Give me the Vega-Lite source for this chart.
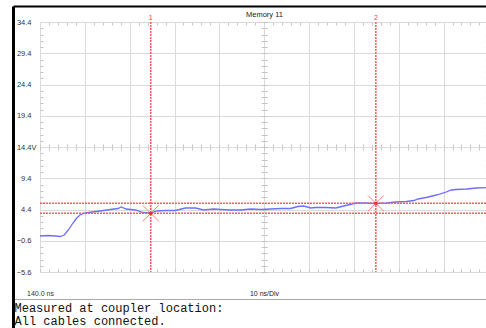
{
  "$schema": "https://vega.github.io/schema/vega-lite/v6.json",
  "width": 473,
  "height": 322,
  "autosize": {"type": "none"},
  "padding": {"left": 13, "top": 6, "right": 0, "bottom": 0},
  "background": "white",
  "config": {
    "view": {"stroke": null},
    "axis": {
      "grid": false, "domain": false, "labels": false, "ticks": false,
      "tickColor": "#c4c4c4", "tickWidth": 1,
      "labelFont": "Liberation Sans", "labelFontSize": 7.5, "labelColor": "#333333",
      "titleFont": "Liberation Sans", "titleFontSize": 7.5, "titleFontWeight": "normal", "titleColor": "#222222"
    }
  },
  "datasets": {
    "trace": [
      {"t": 140.0, "v": 0.16}, {"t": 141.8, "v": 0.24}, {"t": 143.4, "v": 0.16}, {"t": 144.5, "v": 0.08},
      {"t": 145.4, "v": 0.32}, {"t": 146.3, "v": 1.12}, {"t": 147.2, "v": 2.08}, {"t": 148.1, "v": 2.96},
      {"t": 148.9, "v": 3.52}, {"t": 150.1, "v": 3.84}, {"t": 151.6, "v": 4.0}, {"t": 153.4, "v": 4.16},
      {"t": 155.7, "v": 4.4}, {"t": 157.4, "v": 4.56}, {"t": 158.1, "v": 4.8}, {"t": 159.2, "v": 4.48},
      {"t": 161.3, "v": 4.32}, {"t": 163.0, "v": 3.92}, {"t": 164.6, "v": 3.84}, {"t": 166.0, "v": 4.16},
      {"t": 168.0, "v": 4.24}, {"t": 170.2, "v": 4.24}, {"t": 172.4, "v": 4.64}, {"t": 174.7, "v": 4.64},
      {"t": 176.5, "v": 4.32}, {"t": 178.7, "v": 4.48}, {"t": 180.3, "v": 4.4}, {"t": 182.5, "v": 4.32},
      {"t": 184.7, "v": 4.32}, {"t": 187.0, "v": 4.48}, {"t": 189.2, "v": 4.4}, {"t": 191.5, "v": 4.48},
      {"t": 193.7, "v": 4.56}, {"t": 195.9, "v": 4.56}, {"t": 197.5, "v": 4.88}, {"t": 198.8, "v": 4.96},
      {"t": 200.4, "v": 4.64}, {"t": 201.5, "v": 4.72}, {"t": 203.8, "v": 4.72}, {"t": 206.0, "v": 4.64},
      {"t": 208.2, "v": 5.04}, {"t": 210.5, "v": 5.44}, {"t": 212.7, "v": 5.44}, {"t": 214.9, "v": 5.36},
      {"t": 217.2, "v": 5.44}, {"t": 219.4, "v": 5.6}, {"t": 221.7, "v": 5.68}, {"t": 223.4, "v": 5.84},
      {"t": 224.3, "v": 6.08}, {"t": 226.1, "v": 6.32}, {"t": 228.4, "v": 6.72}, {"t": 230.6, "v": 7.2},
      {"t": 231.7, "v": 7.52}, {"t": 232.8, "v": 7.6}, {"t": 235.1, "v": 7.68}, {"t": 237.3, "v": 7.84},
      {"t": 239.8, "v": 7.92}
    ],
    "cursors": [
      {"cursor": "1", "t": 164.7, "v": 3.79},
      {"cursor": "2", "t": 214.9, "v": 5.39}
    ]
  },
  "resolve": {"axis": {"x": "independent", "y": "independent"}},
  "layer": [
    {
      "data": {"name": "trace"},
      "mark": {"type": "line", "stroke": "#6e6eff", "strokeWidth": 1.3, "interpolate": "linear"},
      "encoding": {
        "x": {"field": "t", "type": "quantitative",
          "scale": {"domain": [133.9786, 239.4648], "nice": false, "zero": false},
          "axis": {"orient": "top", "offset": 0, "domain": true, "domainColor": "#000000", "domainWidth": 2,
            "title": "Memory 11", "titleX": 251, "titleY": 10.5, "titleBaseline": "alphabetic", "titleAlign": "center"}},
        "y": {"field": "v", "type": "quantitative",
          "scale": {"domain": [-14.56, 36.96], "nice": false, "zero": false},
          "axis": {"orient": "left", "offset": 0, "domain": true, "domainColor": "#000000", "domainWidth": 3, "title": null}}
      }
    },
    {
      "data": {"name": "cursors"},
      "mark": {"type": "rule", "stroke": "#ff5a5a", "strokeWidth": 1.5, "strokeDash": [2, 1], "opacity": 1},
      "encoding": {
        "x": {"field": "t", "type": "quantitative",
          "scale": {"domain": [133.9786, 239.4648], "nice": false, "zero": false},
          "axis": {"orient": "bottom", "offset": -306, "ticks": true, "title": null,
            "values": [140,142,144,146,148,150,152,154,156,158,160,162,164,166,168,170,172,174,176,178,180,182,184,186,188,190,192,194,196,198,200,202,204,206,208,210,212,214,216,218,220,222,224,226,228,230,232,234,236,238,240],
            "tickSize": {"condition": {"test": "datum.value % 10 === 0", "value": 250}, "value": 3},
            "tickColor": {"condition": {"test": "datum.value % 10 === 0", "value": "#dadada"}, "value": "#c4c4c4"}}},
        "y": {"datum": 34.4, "type": "quantitative",
          "scale": {"domain": [-14.56, 36.96], "nice": false, "zero": false},
          "axis": {"orient": "right", "offset": -446, "ticks": true, "title": null,
            "values": [-5.6,-4.6,-3.6,-2.6,-1.6,-0.6,0.4,1.4,2.4,3.4,4.4,5.4,6.4,7.4,8.4,9.4,10.4,11.4,12.4,13.4,14.4,15.4,16.4,17.4,18.4,19.4,20.4,21.4,22.4,23.4,24.4,25.4,26.4,27.4,28.4,29.4,30.4,31.4,32.4,33.4,34.4],
            "tickSize": {"condition": {"test": "indexof([-5.6,-0.6,4.4,9.4,14.4,19.4,24.4,29.4,34.4], datum.value) >= 0", "value": 448.4}, "value": 3},
            "tickColor": {"condition": {"test": "indexof([-5.6,-0.6,4.4,9.4,14.4,19.4,24.4,29.4,34.4], datum.value) >= 0", "value": "#dadada"}, "value": "#c4c4c4"}}},
        "y2": {"datum": -5.6}
      }
    },
    {
      "data": {"name": "cursors"},
      "mark": {"type": "rule", "stroke": "#ff5a5a", "strokeWidth": 1.5, "strokeDash": [2, 1], "opacity": 1},
      "encoding": {
        "x": {"datum": 140, "type": "quantitative",
          "scale": {"domain": [133.9786, 239.4648], "nice": false, "zero": false},
          "axis": {"orient": "top", "offset": -266, "ticks": true, "tickSize": 3, "title": null,
            "values": [140,142,144,146,148,150,152,154,156,158,160,162,164,166,168,170,172,174,176,178,180,182,184,186,188,190,192,194,196,198,200,202,204,206,208,210,212,214,216,218,220,222,224,226,228,230,232,234,236,238,240]}},
        "x2": {"datum": 240},
        "y": {"field": "v", "type": "quantitative",
          "scale": {"domain": [-14.56, 36.96], "nice": false, "zero": false},
          "axis": {"orient": "left", "offset": -475.4, "ticks": true, "tickSize": 3, "title": null,
            "values": [-5.6,-4.6,-3.6,-2.6,-1.6,-0.6,0.4,1.4,2.4,3.4,4.4,5.4,6.4,7.4,8.4,9.4,10.4,11.4,12.4,13.4,14.4,15.4,16.4,17.4,18.4,19.4,20.4,21.4,22.4,23.4,24.4,25.4,26.4,27.4,28.4,29.4,30.4,31.4,32.4,33.4,34.4]}}
      }
    },
    {
      "data": {"name": "cursors"},
      "mark": {"type": "point", "shape": "M-1,-1L1,1M-1,1L1,-1", "size": 256, "stroke": "#ff8080", "strokeWidth": 1, "filled": false, "opacity": 1},
      "encoding": {
        "x": {"field": "t", "type": "quantitative",
          "scale": {"domain": [133.9786, 239.4648], "nice": false, "zero": false},
          "axis": {"orient": "top", "offset": -144, "ticks": true, "tickSize": 6, "title": null,
            "values": [140,142,144,146,148,150,152,154,156,158,160,162,164,166,168,170,172,174,176,178,180,182,184,186,188,190,192,194,196,198,200,202,204,206,208,210,212,214,216,218,220,222,224,226,228,230,232,234,236,238,240]}},
        "y": {"field": "v", "type": "quantitative",
          "scale": {"domain": [-14.56, 36.96], "nice": false, "zero": false},
          "axis": {"orient": "left", "offset": -254.2, "ticks": true, "tickSize": 6, "title": null,
            "values": [-5.6,-4.6,-3.6,-2.6,-1.6,-0.6,0.4,1.4,2.4,3.4,4.4,5.4,6.4,7.4,8.4,9.4,10.4,11.4,12.4,13.4,14.4,15.4,16.4,17.4,18.4,19.4,20.4,21.4,22.4,23.4,24.4,25.4,26.4,27.4,28.4,29.4,30.4,31.4,32.4,33.4,34.4]}}
      }
    },
    {
      "data": {"name": "cursors"},
      "mark": {"type": "text", "fill": "#ff4040", "font": "Liberation Sans", "fontSize": 7, "baseline": "bottom", "align": "center", "dy": -1.5},
      "encoding": {
        "text": {"field": "cursor"},
        "x": {"field": "t", "type": "quantitative",
          "scale": {"domain": [133.9786, 239.4648], "nice": false, "zero": false},
          "axis": {"orient": "bottom", "offset": -56, "labels": true, "tickSize": 0, "values": [140],
            "labelExpr": "'140.0 ns'", "labelBaseline": "middle", "labelPadding": 21, "labelFontSize": 7, "labelColor": "#333333",
            "title": "10 ns/Div", "titleX": 251, "titleY": 21, "titleBaseline": "middle", "titleAlign": "center", "titleFontSize": 7}},
        "y": {"datum": 34.4, "type": "quantitative",
          "scale": {"domain": [-14.56, 36.96], "nice": false, "zero": false},
          "axis": {"orient": "left", "offset": -27, "labels": true, "tickSize": 0, "title": null,
            "values": [-5.6,-0.6,4.4,9.4,14.4,19.4,24.4,29.4,34.4], "format": ".1f",
            "labelExpr": "datum.value === 14.4 ? '14.4V' : datum.label",
            "labelAlign": "right", "labelBaseline": "middle", "labelColor": "#333333",
            "labelPadding": {"condition": {"test": "datum.value === 14.4", "value": 4}, "value": 9}}}
      }
    },
    {
      "data": {"name": "cursors"},
      "mark": {"type": "point", "shape": "square", "size": 9, "filled": true, "color": "#e03030", "opacity": 1},
      "encoding": {
        "x": {"field": "t", "type": "quantitative",
          "scale": {"domain": [133.9786, 239.4648], "nice": false, "zero": false},
          "axis": {"orient": "bottom", "offset": -29, "domain": true, "domainDash": [1, 1], "domainColor": "#555555", "domainWidth": 1,
            "title": ["Measured at coupler location:", "All cables connected."],
            "titleFont": "Liberation Mono", "titleFontSize": 12, "titleColor": "#111111",
            "titleX": 1, "titleY": 12.5, "titleAlign": "left", "titleBaseline": "alphabetic", "titleLineHeight": 12.5}},
        "y": {"field": "v", "type": "quantitative",
          "scale": {"domain": [-14.56, 36.96], "nice": false, "zero": false},
          "axis": null}
      }
    }
  ]
}
